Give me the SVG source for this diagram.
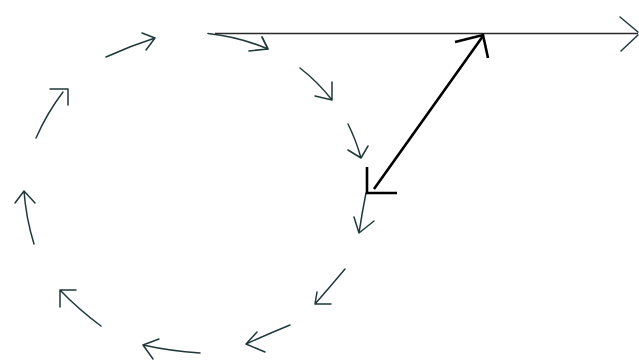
<svg xmlns="http://www.w3.org/2000/svg" width="639" height="360" viewBox="0 0 639 360">
<style>
.s{fill:none;stroke:#20393a;stroke-width:1.5;stroke-linecap:round;stroke-linejoin:round}
.b{fill:none;stroke:#000;stroke-width:2.6;stroke-linecap:butt;stroke-linejoin:miter}
.h{fill:none;stroke:#2a2a2a;stroke-width:1.6}
</style>
<rect width="639" height="360" fill="#fff"/>
<g id="connectors">
<g id="horizontal">
<path class="h" d="M215 33.5 L638 33.5"/>
<path class="s" d="M620 17 L638 32 M638 35 L621 51"/>
</g>
<g id="circle-arrows">
<path class="s" d="M106 57 Q130 46 155 38 M142 33 L155 38 L146 50"/>
<path class="s" d="M36 138 Q47 113 63 92 M50 89 L68 89 L68 105"/>
<path class="s" d="M208 33.5 Q240 37 268 49 M262 37 L268 49 L249 51" style="stroke-width:1.7"/>
<path class="s" d="M300 68 Q318 82 332 100 M332 82 L332 100 L315 96"/>
<path class="s" d="M348 124 Q356 140 361 158 M348 150 L361 158 L368 146"/>
<path class="s" d="M366 193 Q362 213 359 233 M354 217 L359 233 L374 221"/>
<path class="s" d="M345 269 Q330 287 315 304 M317 292 L315 304 L331 304"/>
<path class="s" d="M290 325 Q268 334 246 344 M257 332 L246 344 L265 352"/>
<path class="s" d="M200 353 Q170 351 143 345 M159 339 L143 345 L153 359"/>
<path class="s" d="M101 326 Q78 309 60 290 M76 290 L60 290 L60 307"/>
<path class="s" d="M34 244 Q26 218 24 191 M15 203 L24 191 L35 203"/>
</g>
<g id="double-arrow">
<path class="b" d="M374 189 L483 36"/>
<path class="b" d="M455 42 L483 35 L488 58"/>
<path class="b" d="M367 167 L367 193 L397 193"/>
</g>
</g>
</svg>
